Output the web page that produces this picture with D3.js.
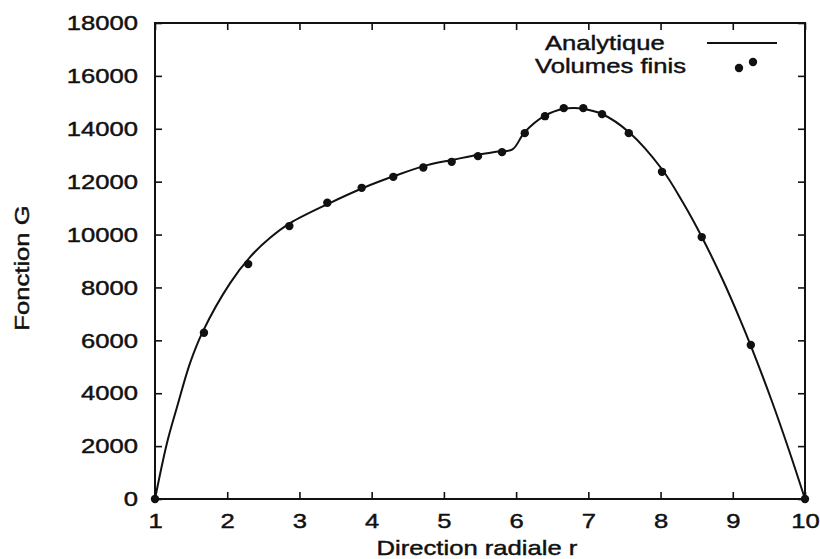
<!DOCTYPE html>
<html>
<head>
<meta charset="utf-8">
<script src="https://cdn.jsdelivr.net/npm/d3@7"></script>
<style>
  html, body { margin: 0; padding: 0; background: #fff; }
  svg { display: block; }
  text { font-family: "Liberation Sans", Arial, sans-serif; fill: #111; stroke: #111; stroke-width: 0.45px; }
</style>
</head>
<body>
<svg id="chart" width="820" height="559"></svg>
<script>
// ---- Data ----
const xTicks = [1, 2, 3, 4, 5, 6, 7, 8, 9, 10];
const yTicks = [0, 2000, 4000, 6000, 8000, 10000, 12000, 14000, 16000, 18000];

// Analytic solution (solid curve)
const rAnalytic = [1, 1.166, 1.305, 1.485, 1.665, 2.04, 2.315, 2.59, 2.87, 3.42, 3.88, 4.35, 4.77, 5.13, 5.49, 5.75, 5.95, 6.12, 6.40, 6.66, 6.80, 6.93, 7.19, 7.56, 8.02, 8.31, 8.57, 8.865, 9.10, 9.253, 9.534, 9.79, 10];
const gAnalytic = [0, 2117, 3478, 5141, 6350, 8165, 9148, 9866, 10430, 11190, 11760, 12250, 12625, 12830, 13030, 13140, 13220, 13880, 14500, 14760, 14790, 14760, 14560, 13880, 12470, 11212, 9919, 8261, 6795, 5772, 3753, 1751, 0];

// Finite volumes (dots)
const rFV = [1, 1.678, 2.29, 2.86, 3.386, 3.862, 4.30, 4.715, 5.108, 5.472, 5.805, 6.12, 6.40, 6.66, 6.93, 7.19, 7.56, 8.02, 8.57, 9.25, 10];
const gFV = [0, 6286, 8883, 10320, 11200, 11767, 12183, 12538, 12750, 12965, 13117, 13835, 14477, 14780, 14780, 14553, 13835, 12372, 9904, 5821, 0];

const legendLabels = ["Analytique", "Volumes finis"];
const xLabel = "Direction radiale r";
const yLabel = "Fonction G";

// ---- Layout ----
const W = 820, H = 559;
const m = { left: 155, right: 15, top: 23, bottom: 60 };
const x0 = m.left, x1 = W - m.right, y0 = H - m.bottom, y1 = m.top;

const svg = d3.select("#chart");
const x = d3.scaleLinear().domain([1, 10]).range([x0, x1]);
const y = d3.scaleLinear().domain([0, 18000]).range([y0, y1]);

const FS = 21;
const STRETCH = 1.22;
const tickLen = 7;

// Axes with inward ticks (mirrored)
const gx = svg.append("g").attr("transform", `translate(0,${y0})`)
  .call(d3.axisBottom(x).tickValues(xTicks).tickSize(-tickLen).tickPadding(14).tickFormat(d3.format("d")));
const gxTop = svg.append("g").attr("transform", `translate(0,${y1})`)
  .call(d3.axisTop(x).tickValues(xTicks).tickSize(-tickLen).tickFormat(""));
const gy = svg.append("g").attr("transform", `translate(${x0},0)`)
  .call(d3.axisLeft(y).tickValues(yTicks).tickSize(-tickLen).tickPadding(17).tickFormat(d3.format("d")));
const gyR = svg.append("g").attr("transform", `translate(${x1},0)`)
  .call(d3.axisRight(y).tickValues(yTicks).tickSize(-tickLen).tickFormat(""));

[gx, gxTop, gy, gyR].forEach(g => {
  g.select(".domain").remove();
  g.selectAll(".tick line").attr("stroke", "#111").attr("stroke-width", 1.6);
  g.selectAll(".tick text").attr("font-size", FS).attr("font-family", "Liberation Sans, Arial, sans-serif").attr("fill", "#111");
});
gx.selectAll(".tick text").attr("dy", "0.71em");

// Frame
svg.append("rect").attr("x", x0).attr("y", y1).attr("width", x1 - x0).attr("height", y0 - y1)
  .attr("fill", "none").attr("stroke", "#111").attr("stroke-width", 2);

// Analytic curve
const pts = rAnalytic.map((r, i) => [r, gAnalytic[i]]);
const line = d3.line().x(d => x(d[0])).y(d => y(d[1])).curve(d3.curveCatmullRom.alpha(0.5));
svg.append("path").datum(pts).attr("d", line)
  .attr("fill", "none").attr("stroke", "#111").attr("stroke-width", 2);

// Finite volume dots
svg.append("g").selectAll("circle").data(rFV.map((r, i) => [r, gFV[i]])).join("circle")
  .attr("cx", d => x(d[0])).attr("cy", d => y(d[1])).attr("r", 4.2).attr("fill", "#111");

// Axis labels
svg.append("text").attr("x", (x0 + x1) / 2 - 3).attr("y", 555).attr("text-anchor", "middle")
  .attr("font-size", FS).text(xLabel);
svg.append("text").attr("transform", `translate(29,268) rotate(-90)`).attr("text-anchor", "middle")
  .attr("font-size", FS).text(yLabel);

// Legend
svg.append("text").attr("x", 545).attr("y", 50).attr("font-size", FS).text(legendLabels[0]);
svg.append("text").attr("x", 535).attr("y", 73).attr("font-size", FS).text(legendLabels[1]);
svg.append("line").attr("x1", 707).attr("x2", 777).attr("y1", 43).attr("y2", 43)
  .attr("stroke", "#111").attr("stroke-width", 2);
svg.append("circle").attr("cx", 739).attr("cy", 68).attr("r", 4.2).attr("fill", "#111");
svg.append("circle").attr("cx", 753).attr("cy", 62).attr("r", 4.2).attr("fill", "#111");

// Horizontal stretch of text to mimic the reference glyph widths
svg.selectAll("text").each(function () {
  const t = d3.select(this);
  if (!t.text()) return;
  const w = this.getComputedTextLength();
  t.attr("textLength", w * STRETCH).attr("lengthAdjust", "spacingAndGlyphs");
});
</script>
</body>
</html>
